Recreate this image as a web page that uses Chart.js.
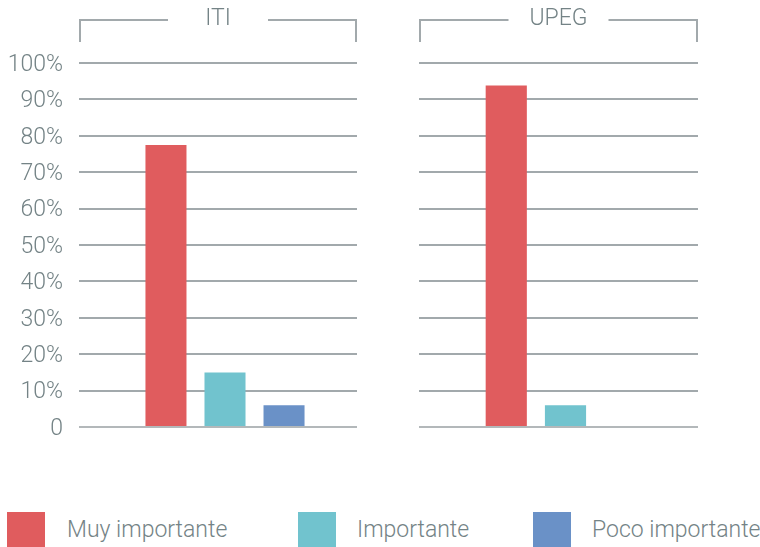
<!DOCTYPE html>
<html>
<head>
<meta charset="utf-8">
<script src="https://cdn.jsdelivr.net/npm/chart.js@4/dist/chart.umd.min.js"></script>
<style>
  html, body { margin: 0; padding: 0; background: #fff; }
  body { width: 760px; height: 547px; position: relative; overflow: hidden; font-family: Roboto, "Liberation Sans", sans-serif; }
  .panel { position: absolute; top: 0; width: 380px; height: 470px; }
  .legend-item { position: absolute; top: 512px; height: 35px; display: flex; align-items: center; }
  .legend-box { width: 38px; height: 35px; }
  .legend-text { position: absolute; top: 0; height: 35px; line-height: 35px; font-size: 23px; font-weight: 300; color: #748386; white-space: nowrap; }
</style>
</head>
<body>
<div class="panel" style="left:0"><canvas id="c1"></canvas></div>
<div class="panel" style="left:380px"><canvas id="c2"></canvas></div>
<div id="legend"></div>
<script>
// ---- Data ----
const panels = ['ITI', 'UPEG'];
const seriesNames = ['Muy importante', 'Importante', 'Poco importante'];
const seriesColors = ['#e05c5e', '#71c3ce', '#6a91c7'];
const itiValues = [77.5, 15, 6];
const upegValues = [93.8, 6, 0];
const tickValues = [0, 10, 20, 30, 40, 50, 60, 70, 80, 90, 100];
const tickLabels = ['0', '10%', '20%', '30%', '40%', '50%', '60%', '70%', '80%', '90%', '100%'];

const textColor = '#748386';
const gridColor = '#a2a9ac';

const bracketPlugin = {
  id: 'bracket',
  afterLayout(chart, args, opts) {
    // group of bars sits slightly right of the plot centre in the original
    const s = chart.scales.x;
    s._startPixel += opts.shift;
    s._endPixel += opts.shift;
  },
  afterDraw(chart, args, opts) {
    const ctx = chart.ctx;
    const a = chart.chartArea;
    const cx = (a.left + a.right) / 2;
    const top = 20, bottom = 42, gap = 50;
    ctx.save();
    ctx.strokeStyle = gridColor;
    ctx.lineWidth = 2;
    ctx.beginPath();
    ctx.moveTo(a.left + 1, bottom);
    ctx.lineTo(a.left + 1, top);
    ctx.lineTo(cx - gap, top);
    ctx.moveTo(cx + gap, top);
    ctx.lineTo(a.right - 1, top);
    ctx.lineTo(a.right - 1, bottom);
    ctx.stroke();
    ctx.fillStyle = textColor;
    ctx.font = '300 23px Roboto, "Liberation Sans", sans-serif';
    ctx.textAlign = 'center';
    ctx.textBaseline = 'middle';
    ctx.fillText(opts.text, cx, 19);
    ctx.restore();
  }
};

function makeChart(id, title, values, showTicks, axisWidth, padRight) {
  const datasets = seriesNames.map((name, i) => ({
    label: name,
    data: [values[i]],
    backgroundColor: seriesColors[i],
    borderWidth: 0,
    categoryPercentage: 0.637,
    barPercentage: 0.695
  }));
  return new Chart(document.getElementById(id), {
    type: 'bar',
    data: { labels: [title], datasets },
    options: {
      responsive: false,
      animation: false,
      devicePixelRatio: 1,
      layout: { padding: { top: 63, bottom: 43, left: 0, right: padRight } },
      plugins: {
        legend: { display: false },
        tooltip: { enabled: false },
        bracket: { text: title, shift: 7 }
      },
      scales: {
        x: { display: false },
        y: {
          min: 0, max: 100,
          afterBuildTicks: s => { s.ticks = tickValues.map(v => ({ value: v })); },
          afterFit: s => { s.width = axisWidth; },
          border: { display: false },
          grid: {
            color: ctx => ctx.tick && ctx.tick.value === 0 ? '#b3b8ba' : gridColor,
            lineWidth: 2,
            drawTicks: false
          },
          ticks: {
            display: showTicks,
            padding: 16,
            labelOffset: 2,
            color: textColor,
            font: { family: 'Roboto, "Liberation Sans", sans-serif', size: 23, weight: '300' },
            callback: (v, i) => tickLabels[tickValues.indexOf(v)]
          }
        }
      }
    },
    plugins: [bracketPlugin]
  });
}

document.getElementById('c1').width = 380; document.getElementById('c1').height = 470;
document.getElementById('c2').width = 380; document.getElementById('c2').height = 470;

makeChart('c1', panels[0], itiValues, true, 79, 23);
makeChart('c2', panels[1], upegValues, false, 39, 62);

// ---- Legend ----
const legendBoxX = [7, 298, 533];
const legendTextX = [67, 357, 592];
const legend = document.getElementById('legend');
seriesNames.forEach((name, i) => {
  const box = document.createElement('div');
  box.className = 'legend-item';
  box.style.left = legendBoxX[i] + 'px';
  box.innerHTML = '<div class="legend-box" style="background:' + seriesColors[i] + '"></div>';
  legend.appendChild(box);
  const t = document.createElement('div');
  t.className = 'legend-text';
  t.style.left = legendTextX[i] + 'px';
  t.style.top = '512px';
  t.textContent = name;
  legend.appendChild(t);
});
</script>
</body>
</html>
